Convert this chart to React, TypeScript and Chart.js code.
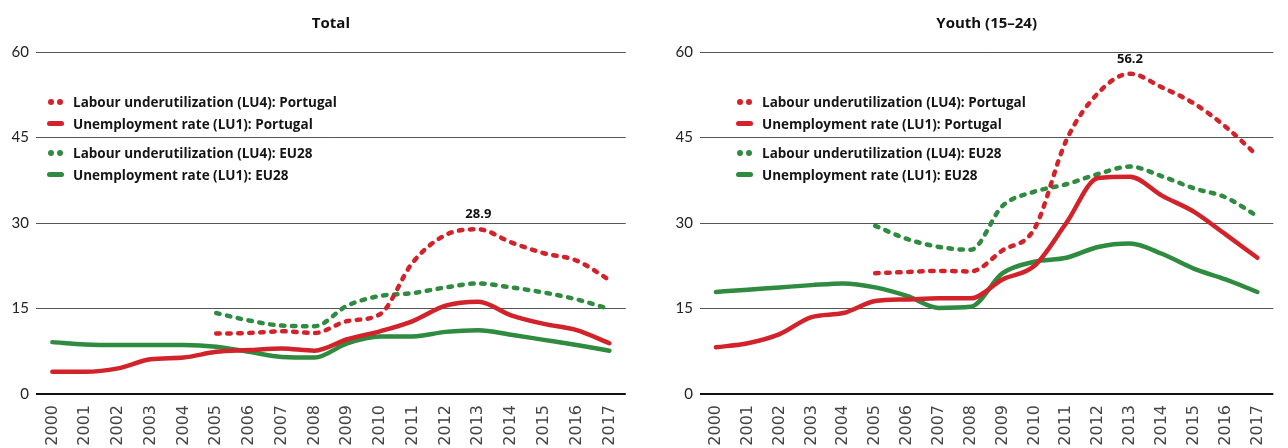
import React, { useEffect, useRef } from 'react';
import { Chart, registerables } from 'chart.js';

Chart.register(...registerables);

const years = ['2000', '2001', '2002', '2003', '2004', '2005', '2006', '2007', '2008', '2009', '2010', '2011', '2012', '2013', '2014', '2015', '2016', '2017'];
const yTicks = [0, 15, 30, 45, 60];

const seriesNames = [
  'Labour underutilization (LU4): Portugal',
  'Unemployment rate (LU1): Portugal',
  'Labour underutilization (LU4): EU28',
  'Unemployment rate (LU1): EU28',
];

const totalLU4Portugal = [null, null, null, null, null, 10.6, 10.7, 11.0, 10.7, 12.8, 14.0, 23.1, 27.9, 28.9, 26.6, 24.7, 23.4, 20.0];
const totalLU1Portugal = [3.9, 3.9, 4.5, 6.1, 6.4, 7.4, 7.7, 8.0, 7.6, 9.6, 11.0, 12.8, 15.5, 16.2, 13.8, 12.3, 11.2, 8.9];
const totalLU4EU28 = [null, null, null, null, null, 14.2, 12.9, 12.0, 11.9, 15.5, 17.2, 17.7, 18.7, 19.4, 18.7, 17.8, 16.6, 14.9];
const totalLU1EU28 = [9.1, 8.7, 8.6, 8.6, 8.6, 8.3, 7.4, 6.5, 6.4, 8.9, 10.1, 10.1, 10.9, 11.2, 10.4, 9.5, 8.6, 7.6];

const youthLU4Portugal = [null, null, null, null, null, 21.2, 21.4, 21.6, 21.5, 25.2, 29.0, 44.5, 52.8, 56.2, 53.8, 51.0, 46.9, 41.8];
const youthLU1Portugal = [8.2, 8.9, 10.5, 13.5, 14.2, 16.3, 16.6, 16.8, 16.8, 20.1, 22.5, 30.0, 37.9, 38.1, 34.8, 32.0, 28.0, 23.9];
const youthLU4EU28 = [null, null, null, null, null, 29.5, 27.2, 25.8, 25.3, 33.0, 35.5, 36.8, 38.6, 39.9, 38.2, 36.1, 34.5, 31.2];
const youthLU1EU28 = [17.9, 18.3, 18.7, 19.1, 19.4, 18.7, 17.2, 15.1, 15.3, 21.2, 23.2, 23.9, 25.8, 26.4, 24.6, 22.0, 20.1, 17.9];

const RED = 'rgb(210, 35, 43)';
const GREEN = 'rgb(46, 139, 64)';
const FONT = '"Open Sans", Lato, sans-serif';
const AXIS_FONT = 'Lato, sans-serif';
const TICK_FONT = '"DejaVu Sans", sans-serif';

const peakLabelPlugin = {
  id: 'peakLabel',
  afterDatasetsDraw(chart: any) {
    const meta = chart.getDatasetMeta(0);
    const data = chart.data.datasets[0].data as (number | null)[];
    let best = -1;
    data.forEach((v, i) => {
      if (v != null && (best < 0 || v > (data[best] as number))) best = i;
    });
    if (best < 0) return;
    const pt = meta.data[best];
    const ctx = chart.ctx;
    ctx.save();
    ctx.font = `bold 13px ${FONT}`;
    ctx.fillStyle = '#111';
    ctx.textAlign = 'center';
    ctx.textBaseline = 'bottom';
    ctx.fillText(String(data[best]), pt.x, pt.y - 8);
    ctx.restore();
  },
};

type PanelProps = {
  title: string;
  series: (number | null)[][];
  left: number;
  width: number;
  padRight: number;
  legendLeft: number;
};

function Panel({ title, series, left, width, padRight, legendLeft }: PanelProps) {
  const ref = useRef<HTMLCanvasElement | null>(null);

  useEffect(() => {
    if (!ref.current) return;
    const colors = [RED, RED, GREEN, GREEN];
    const dashed = [true, false, true, false];
    const chart = new Chart(ref.current, {
      type: 'line',
      data: {
        labels: years,
        datasets: series.map((d, i) => ({
          label: seriesNames[i],
          data: d,
          borderColor: colors[i],
          backgroundColor: colors[i],
          borderWidth: 4.5,
          borderDash: dashed[i] ? [3.5, 7.5] : [],
          borderCapStyle: 'round',
          borderJoinStyle: 'round',
          pointRadius: 0,
          cubicInterpolationMode: 'monotone',
          spanGaps: false,
          fill: false,
        })),
      },
      options: {
        responsive: false,
        animation: false,
        events: [],
        layout: { padding: { left: 0, right: padRight, top: 0, bottom: 0 } },
        plugins: {
          legend: { display: false },
          tooltip: { enabled: false },
          title: {
            display: true,
            text: title,
            fullSize: false,
            color: '#111',
            font: { family: FONT, size: 15, weight: 'bold' },
            padding: { top: 15, bottom: 19 },
          },
        },
        scales: {
          x: {
            offset: true,
            grid: { display: false, drawTicks: false },
            border: { display: false },
            ticks: {
              autoSkip: false,
              minRotation: 90,
              maxRotation: 90,
              padding: 11,
              color: '#444',
              font: { family: TICK_FONT, size: 16 },
            },
            afterFit: (s: any) => {
              s.height = 54;
            },
          },
          y: {
            min: yTicks[0],
            max: yTicks[yTicks.length - 1],
            afterBuildTicks: (s: any) => {
              s.ticks = yTicks.map((v) => ({ value: v }));
            },
            grid: {
              drawTicks: false,
              color: (c: any) => (c.tick && c.tick.value === 0 ? '#111' : '#555'),
              lineWidth: (c: any) => (c.tick && c.tick.value === 0 ? 2 : 1),
            },
            border: { display: false },
            ticks: {
              padding: 7,
              color: '#222',
              font: { family: AXIS_FONT, size: 15 },
            },
            afterFit: (s: any) => {
              s.width = 36;
            },
          },
        },
      },
      plugins: [peakLabelPlugin],
    } as any);
    return () => chart.destroy();
  }, []);

  const rows = [102, 124, 153, 175];
  const colors = [RED, RED, GREEN, GREEN];
  const dashed = [true, false, true, false];

  return (
    <>
      <canvas
        ref={ref}
        width={width}
        height={448}
        style={{ position: 'absolute', left, top: 0, width, height: 448 }}
      />
      {seriesNames.map((name, i) => (
        <div
          key={name}
          style={{
            position: 'absolute',
            left: legendLeft,
            top: rows[i] - 10,
            height: 20,
            display: 'flex',
            alignItems: 'center',
            whiteSpace: 'nowrap',
            fontFamily: FONT,
            fontWeight: 700,
            fontSize: 13.5,
            color: '#151515',
          }}
        >
          <span style={{ position: 'relative', width: 17, height: 6, marginRight: 9, display: 'inline-block' }}>
            {dashed[i] ? (
              <>
                <span style={{ position: 'absolute', left: 1, top: 0, width: 6, height: 6, borderRadius: 3, background: colors[i] }} />
                <span style={{ position: 'absolute', left: 10, top: 0, width: 6, height: 6, borderRadius: 3, background: colors[i] }} />
              </>
            ) : (
              <span style={{ position: 'absolute', left: 0, top: 0, width: 17, height: 5, borderRadius: 3, background: colors[i] }} />
            )}
          </span>
          <span>{name}</span>
        </div>
      ))}
    </>
  );
}

export default function App() {
  return (
    <div style={{ position: 'fixed', left: 0, top: 0, width: 1288, height: 448, overflow: 'hidden', background: '#fff' }}>
      <Panel
        title="Total"
        series={[totalLU4Portugal, totalLU1Portugal, totalLU4EU28, totalLU1EU28]}
        left={0}
        width={640}
        padRight={6}
        legendLeft={47}
      />
      <Panel
        title="Youth (15–24)"
        series={[youthLU4Portugal, youthLU1Portugal, youthLU4EU28, youthLU1EU28]}
        left={664}
        width={624}
        padRight={0}
        legendLeft={736}
      />
    </div>
  );
}
